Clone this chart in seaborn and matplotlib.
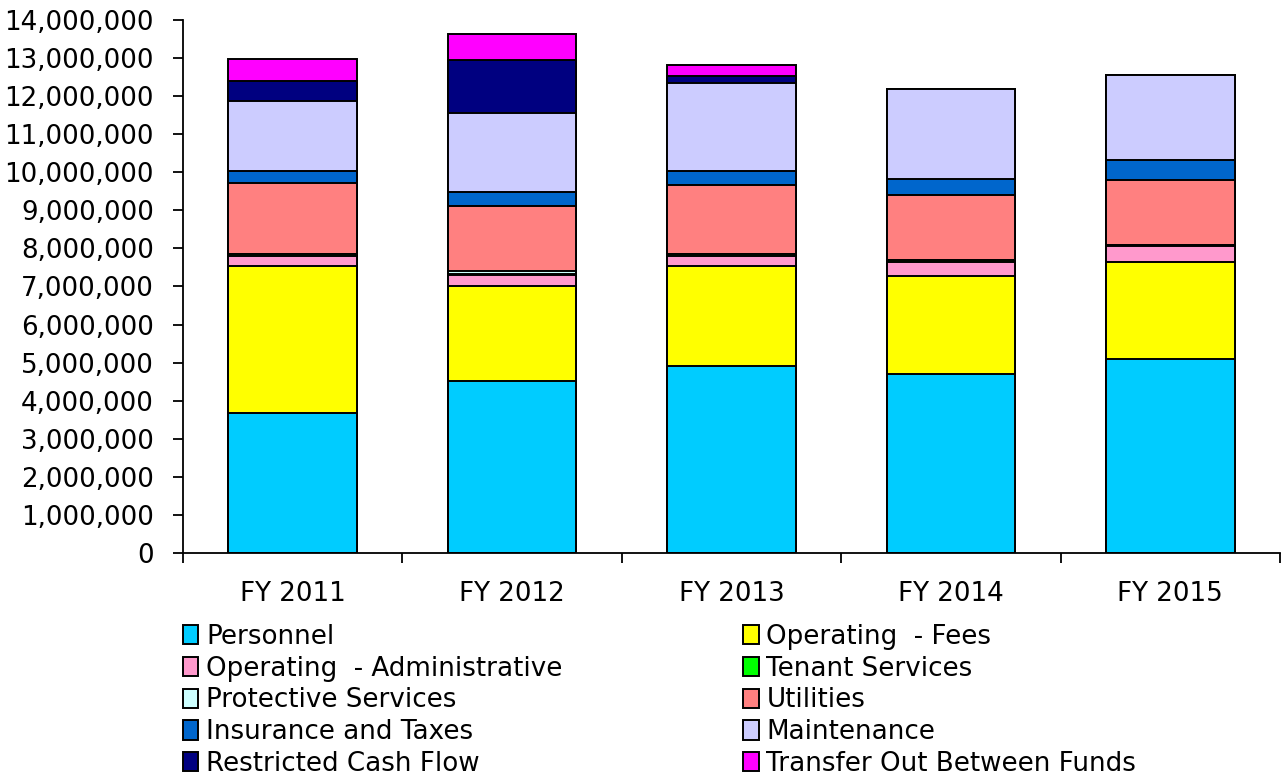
import numpy as np
import pandas as pd
import matplotlib
matplotlib.use("Agg")
import matplotlib.pyplot as plt
from matplotlib.patches import Patch
from matplotlib.ticker import FuncFormatter, FixedLocator
import seaborn as sns

years = ["FY 2011", "FY 2012", "FY 2013", "FY 2014", "FY 2015"]

series = [
    "Personnel",
    "Operating  - Fees",
    "Operating  - Administrative",
    "Tenant Services",
    "Protective Services",
    "Utilities",
    "Insurance and Taxes",
    "Maintenance",
    "Restricted Cash Flow",
    "Transfer Out Between Funds",
]

# Amounts in dollars
personnel      = [3680000, 4520000, 4910000, 4700000, 5100000]
operating_fees = [3860000, 2490000, 2630000, 2580000, 2540000]
operating_adm  = [260000, 290000, 260000, 360000, 420000]
tenant_serv    = [50000, 20000, 60000, 50000, 40000]
protective     = [0, 100000, 0, 0, 0]
utilities      = [1880000, 1690000, 1810000, 1720000, 1690000]
insurance      = [310000, 370000, 370000, 420000, 520000]
maintenance    = [1840000, 2080000, 2310000, 2360000, 2240000]
restricted     = [520000, 1390000, 190000, 0, 0]
transfer_out   = [580000, 680000, 280000, 0, 0]

values = [personnel, operating_fees, operating_adm, tenant_serv, protective,
          utilities, insurance, maintenance, restricted, transfer_out]

colors = ["#00CCFF", "#FFFF00", "#FF99CC", "#00FF00", "#CCFFFF",
          "#FF8080", "#0066CC", "#CCCCFF", "#000080", "#FF00FF"]

df = pd.DataFrame({name: vals for name, vals in zip(series, values)}, index=years)
cum = df.cumsum(axis=1)

sns.set_theme(style="white")
plt.rcParams["font.family"] = ["DejaVu Sans"]
plt.rcParams["text.color"] = "black"

fig = plt.figure(figsize=(12.83, 7.76), dpi=100)
ax = fig.add_axes([0.1426, 0.2874, 0.8551, 0.6868])

# stacked bars: draw cumulative totals from the top layer downwards
for name, col in reversed(list(zip(series, colors))):
    d = pd.DataFrame({"year": years, "total": cum[name].values})
    sns.barplot(data=d, x="year", y="total", color=col, saturation=1,
                edgecolor="black", linewidth=1.4, width=0.585, ax=ax,
                errorbar=None)

ax.set_xlim(-0.5, 4.5)
ax.set_ylim(0, 14000000)
ax.set_yticks(np.arange(0, 14000001, 1000000))
ax.yaxis.set_major_formatter(FuncFormatter(lambda v, p: f"{int(v):,}"))
ax.set_xlabel("")
ax.set_ylabel("")

for s in ["top", "right"]:
    ax.spines[s].set_visible(False)
for s in ["left", "bottom"]:
    ax.spines[s].set_color("black")
    ax.spines[s].set_linewidth(1.3)

ax.tick_params(axis="y", which="major", direction="out", length=7, width=1.3,
               color="black", labelsize=18.8, labelcolor="black", pad=14,
               left=True)
ax.tick_params(axis="x", which="major", length=0, labelsize=18.8,
               labelcolor="black", pad=20)
ax.xaxis.set_minor_locator(FixedLocator(np.arange(-0.5, 4.6, 1.0)))
ax.tick_params(axis="x", which="minor", direction="out", length=7, width=1.3,
               color="black", bottom=True)

# legend, two columns filled row by row
handles = [Patch(facecolor=c, edgecolor="black", linewidth=1.4) for c in colors]
order = [0, 2, 4, 6, 8, 1, 3, 5, 7, 9]
fig.legend([handles[i] for i in order], [series[i] for i in order],
           ncol=2, loc="upper left", bbox_to_anchor=(0.1425, 0.196),
           frameon=False, fontsize=18.8, labelcolor="black",
           handlelength=0.6, handleheight=0.75,
           handletextpad=0.3, labelspacing=0.22, columnspacing=6.9,
           borderaxespad=0, borderpad=0)

fig.savefig("out.png", dpi=100)
